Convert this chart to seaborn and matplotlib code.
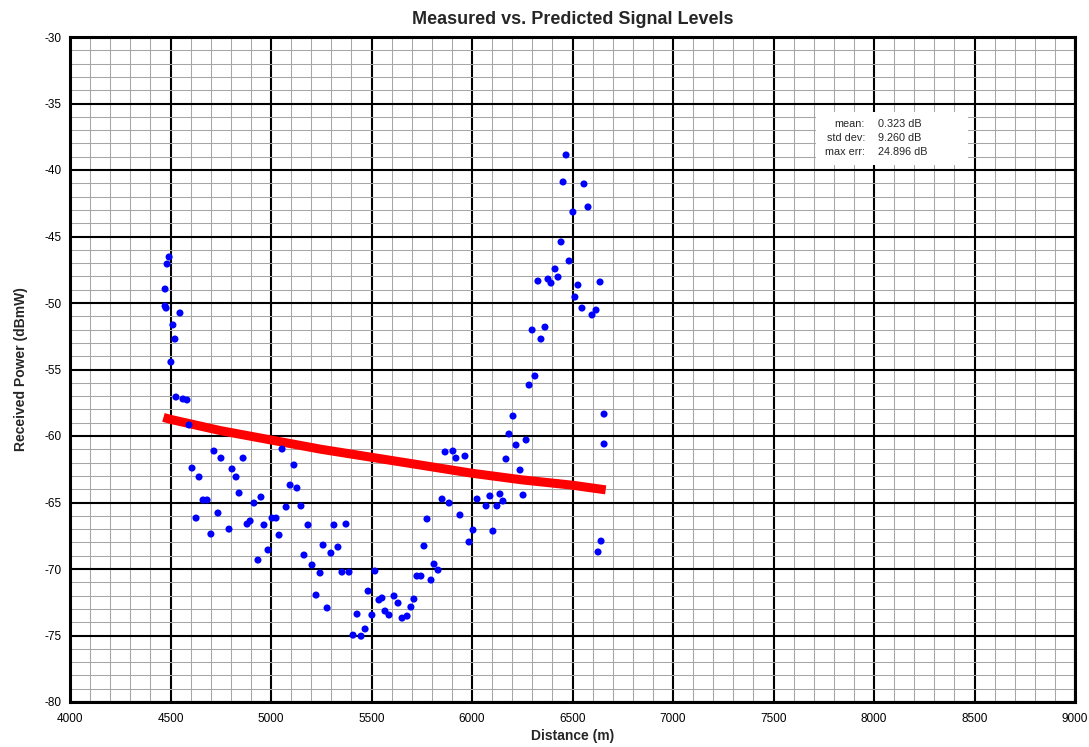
import matplotlib
matplotlib.use("Agg")
import matplotlib.pyplot as plt
import seaborn as sns
import pandas as pd
from matplotlib.ticker import MultipleLocator

# Measured signal levels (distance in m, received power in dBmW)
meas_dist = [
    4493, 4483, 4473, 4473, 4478, 4547, 4512, 4522, 4502, 4527, 4562, 4582, 4592,
    4716, 4751, 4861, 4607, 4642, 4806, 4826, 4841, 4662, 4682, 4627, 4736, 4701,
    4791, 4915, 4950, 4881, 4896, 4965, 4935, 4985, 5005, 5025, 5040, 5055, 5114,
    5095, 5129, 5075, 5149, 5184, 5164, 5204, 5244, 5259, 5298, 5333, 5313, 5373,
    5353, 5388, 5224, 5279, 5428, 5408, 5448, 5468, 5502, 5483, 5517, 5537, 5552,
    5567, 5587, 5612, 5632, 5652, 5677, 5696, 5711, 5726, 5746, 5796, 5811, 5831,
    5761, 5776, 5851, 5886, 5940, 5985, 6005, 6025, 6070, 6089, 6104, 6124, 6139,
    6154, 6254, 6642, 6627, 6657, 6657, 6204, 6184, 6219, 6269, 6169, 6239, 5866,
    5905, 5920, 5965, 6468, 6453, 6557, 6502, 6577, 6443, 6483, 6413, 6428, 6328,
    6378, 6393, 6527, 6637, 6512, 6547, 6617, 6597, 6363, 6299, 6343, 6313, 6284,
]
meas_power = [
    -46.54, -47.07, -48.95, -50.23, -50.38, -50.75, -51.65, -52.71, -54.44, -57.07,
    -57.22, -57.29, -59.17, -61.13, -61.66, -61.66, -62.41, -63.08, -62.48, -63.08,
    -64.29, -64.81, -64.81, -66.17, -65.79, -67.37, -67.00, -65.04, -64.59, -66.62,
    -66.39, -66.69, -69.33, -68.57, -66.17, -66.17, -67.45, -60.98, -62.18, -63.69,
    -63.91, -65.34, -65.26, -66.69, -68.95, -69.70, -70.30, -68.20, -68.80, -68.35,
    -66.69, -66.62, -70.23, -70.23, -71.96, -72.93, -73.39, -74.97, -75.05, -74.51,
    -73.46, -71.66, -70.15, -72.33, -72.18, -73.16, -73.46, -72.03, -72.56, -73.69,
    -73.54, -72.86, -72.26, -70.53, -70.53, -70.83, -69.63, -70.08, -68.27, -66.24,
    -64.74, -65.04, -65.94, -67.97, -67.07, -64.74, -65.26, -64.51, -67.15, -65.26,
    -64.36, -64.89, -64.44, -67.90, -68.72, -58.35, -60.60, -58.50, -59.85, -60.68,
    -60.30, -61.73, -62.56, -61.20, -61.13, -61.66, -61.51, -38.87, -40.90, -41.05,
    -43.16, -42.78, -45.41, -46.84, -47.44, -48.05, -48.35, -48.20, -48.50, -48.65,
    -48.42, -49.55, -50.38, -50.53, -50.90, -51.81, -52.03, -52.71, -55.49, -56.17,
]

# Predicted signal level curve
pred_dist = [4465, 4500, 4750, 5000, 5250, 5500, 5750, 6000, 6250, 6500, 6665]
pred_power = [-58.6, -58.75, -59.6, -60.3, -61.0, -61.6, -62.2, -62.8, -63.3, -63.7, -64.05]

stat_labels = ["mean:", "std dev:", "max err:"]
stat_values = ["0.323 dB", "9.260 dB", "24.896 dB"]

sns.set_theme(style="white")
plt.rcParams["font.family"] = ["Liberation Sans", "DejaVu Sans"]
plt.rcParams["axes.unicode_minus"] = False

fig = plt.figure(figsize=(10.89, 7.47), dpi=100)
ax = fig.add_axes([70 / 1089, 1 - 702 / 747, 1005 / 1089, 665 / 747])

ax.set_xlim(4000, 9000)
ax.set_ylim(-80, -30)
ax.xaxis.set_major_locator(MultipleLocator(500))
ax.xaxis.set_minor_locator(MultipleLocator(100))
ax.yaxis.set_major_locator(MultipleLocator(5))
ax.yaxis.set_minor_locator(MultipleLocator(1))
ax.grid(which="minor", color="#a6a6a6", linewidth=0.75, zorder=0)
ax.grid(which="major", color="black", linewidth=1.5, zorder=1)
ax.set_axisbelow(True)
for s in ax.spines.values():
    s.set_color("black")
    s.set_linewidth(2.2)
ax.tick_params(which="both", length=0, labelsize=8.5, colors="black")
ax.tick_params(axis="x", pad=8)
ax.tick_params(axis="y", pad=6)

df_meas = pd.DataFrame({"dist": meas_dist, "power": meas_power})
df_pred = pd.DataFrame({"dist": pred_dist, "power": pred_power})

sns.lineplot(data=df_pred, x="dist", y="power", ax=ax, color="#ff0000",
             linewidth=6.5, solid_capstyle="butt", zorder=3)
sns.scatterplot(data=df_meas, x="dist", y="power", ax=ax, color="#0000ff",
                s=26, edgecolor="none", linewidth=0, zorder=4)

ax.set_xlabel("Distance (m)", fontsize=10, fontweight="bold", labelpad=3)
ax.set_ylabel("Received Power (dBmW)", fontsize=10, fontweight="bold", labelpad=12)
ax.set_title("Measured vs. Predicted Signal Levels", fontsize=13, fontweight="bold", pad=9)

# statistics box
ax.add_patch(plt.Rectangle((7710, -39.6), 760, 3.95, transform=ax.transData,
                           facecolor="white", edgecolor="none", zorder=5))
for i, (lab, val) in enumerate(zip(stat_labels, stat_values)):
    yv = -36.55 - i * 1.05
    ax.text(7955, yv, lab, ha="right", va="center", fontsize=7.8, zorder=6)
    ax.text(8020, yv, val, ha="left", va="center", fontsize=7.8, zorder=6)

fig.savefig("out.png", dpi=100)
